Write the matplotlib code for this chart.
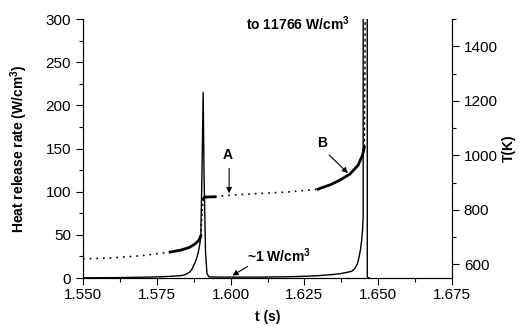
import matplotlib
matplotlib.use("Agg")
import matplotlib.pyplot as plt
from matplotlib.ticker import MultipleLocator

plt.rcParams["font.family"] = ["Liberation Sans", "DejaVu Sans"]
plt.rcParams["mathtext.fontset"] = "custom"
plt.rcParams["mathtext.rm"] = "Liberation Sans:bold"
plt.rcParams["mathtext.bf"] = "Liberation Sans:bold"
plt.rcParams["mathtext.default"] = "bf"

# --- heat release rate (W/cm3) ---
hrr_t = [1.550, 1.560, 1.570, 1.575, 1.580, 1.5825, 1.5839, 1.5850, 1.5860,
         1.5868, 1.5873, 1.5880, 1.5885, 1.589, 1.5895, 1.5899,
         1.5903, 1.5907, 1.5910, 1.5915, 1.5920, 1.5927, 1.600, 1.610, 1.620,
         1.625, 1.630, 1.634, 1.637, 1.639, 1.6410, 1.6421, 1.6430, 1.6435,
         1.6440, 1.6444, 1.6447, 1.6449, 1.6452, 1.6459, 1.6463, 1.6468]
hrr_v = [0.2, 0.4, 0.9, 1.3, 2.0, 2.6, 3.2, 4.5, 6.5,
         9.5, 13, 18, 23, 29, 38, 47,
         120, 215, 120, 30, 5, 1.2, 1.0, 1.0, 1.5,
         2.0, 2.8, 3.8, 5.0, 6.2, 7.8, 11, 17, 24,
         33, 44, 56, 71, 11766, 11766, 1.0, 0.3]

# --- temperature (K), sparse (dotted) and dense (solid) parts ---
temp_dot1_t = [1.550, 1.560, 1.570, 1.5795]
temp_dot1_v = [620, 624, 632, 645]
temp_sol1_t = [1.5795, 1.583, 1.586, 1.588, 1.5893, 1.5899]
temp_sol1_v = [645, 652, 662, 675, 689, 705]
temp_dot2_t = [1.5899, 1.5902, 1.5905, 1.5908]
temp_dot2_v = [705, 763, 815, 840]
temp_sol2_t = [1.5908, 1.5911, 1.5915, 1.5947]
temp_sol2_v = [840, 846, 847, 848]
temp_dot3_t = [1.5947, 1.600, 1.610, 1.620, 1.6296]
temp_dot3_v = [848, 854, 860, 866, 876]
temp_sol3_t = [1.6296, 1.634, 1.637, 1.6404, 1.6432, 1.6447, 1.6453]
temp_sol3_v = [876, 893, 909, 931, 964, 1001, 1030]
temp_dot4_t = [1.6453, 1.6455, 1.6456]
temp_dot4_v = [1030, 1300, 1600]

fig = plt.figure(figsize=(5.21, 3.25), dpi=100)
ax = fig.add_axes([0.1593, 0.1446, 0.7083, 0.7969])
ax2 = ax.twinx()

ax.plot(hrr_t, hrr_v, color="black", lw=1.0)

ax2.plot(temp_dot1_t, temp_dot1_v, color="black", lw=1.2, ls=(0, (1, 3)))
ax2.plot(temp_sol1_t, temp_sol1_v, color="black", lw=2.0)
ax2.plot(temp_dot2_t, temp_dot2_v, color="black", lw=1.2, ls=(0, (1, 2)))
ax2.plot(temp_sol2_t, temp_sol2_v, color="black", lw=2.0)
ax2.plot(temp_dot3_t, temp_dot3_v, color="black", lw=1.2, ls=(0, (1, 3)))
ax2.plot(temp_sol3_t, temp_sol3_v, color="black", lw=2.0)
ax2.plot(temp_dot4_t, temp_dot4_v, color="black", lw=1.0, ls=(0, (2, 2)))

ax.set_xlim(1.550, 1.675)
ax.set_ylim(0, 300)
ax2.set_ylim(550, 1500)

ax.xaxis.set_major_locator(MultipleLocator(0.025))
ax.xaxis.set_minor_locator(MultipleLocator(0.0125))
ax.yaxis.set_major_locator(MultipleLocator(50))
ax.yaxis.set_minor_locator(MultipleLocator(25))
ax2.yaxis.set_major_locator(MultipleLocator(200))
ax2.yaxis.set_minor_locator(MultipleLocator(100))
ax.xaxis.set_major_formatter(plt.FormatStrFormatter("%.3f"))

for a in (ax, ax2):
    a.spines["top"].set_visible(False)
    a.tick_params(which="major", direction="out", length=5, width=0.8, labelsize=11)
    a.tick_params(which="minor", direction="out", length=3, width=0.8)
ax.tick_params(axis="x", pad=2)

ax.set_xlabel("t (s)", fontsize=10, fontweight="bold", labelpad=6)
ax.set_ylabel("Heat release rate (W/cm$^3$)", fontsize=10, fontweight="bold", labelpad=11)
ax2.set_ylabel("T(K)", fontsize=10, fontweight="bold", labelpad=3)

ax.text(1.6052, 295, "to 11766 W/cm$^3$", fontsize=10, fontweight="bold",
        ha="left", va="center")
ax.text(1.6056, 25.5, "~1 W/cm$^3$", fontsize=10, fontweight="bold",
        ha="left", va="center")
ax.text(1.5991, 142.5, "A", fontsize=10, fontweight="bold", ha="center", va="center")
ax.text(1.631, 156, "B", fontsize=10, fontweight="bold", ha="center", va="center")

arrow = dict(arrowstyle="-|>", color="black", lw=0.8, mutation_scale=8)
ax.annotate("", xy=(1.5995, 95), xytext=(1.5995, 130), arrowprops=arrow)
ax.annotate("", xy=(1.6404, 119.3), xytext=(1.6327, 144.8), arrowprops=arrow)
ax.annotate("", xy=(1.5998, 1.2), xytext=(1.6066, 15), arrowprops=arrow)

fig.savefig("out.png", dpi=100)
